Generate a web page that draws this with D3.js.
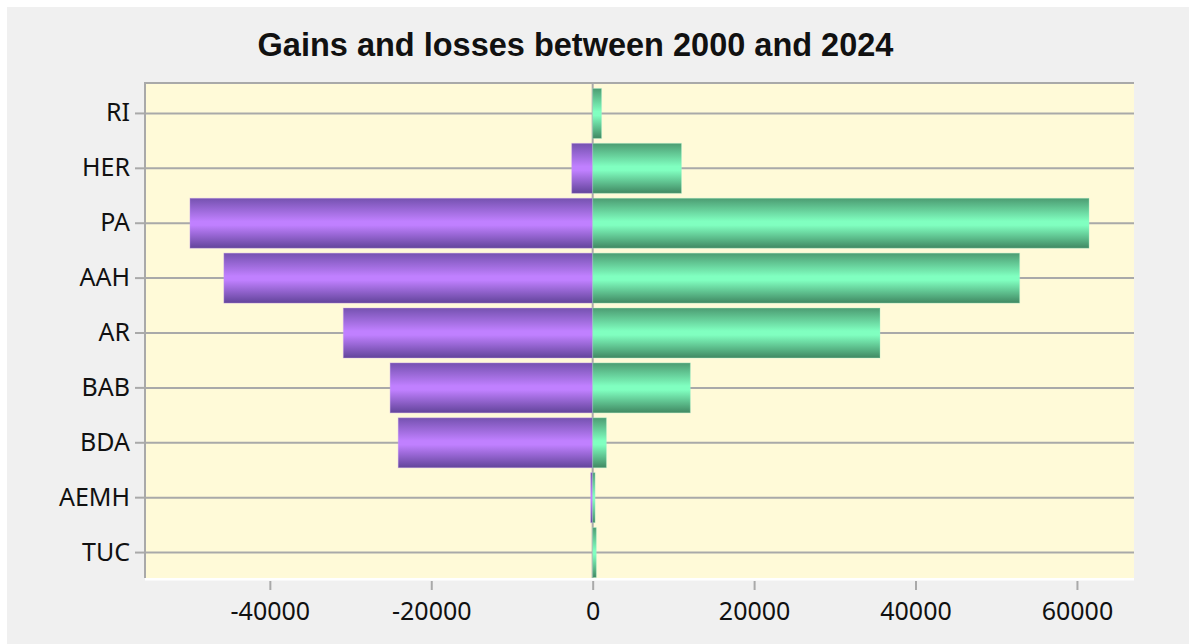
<!DOCTYPE html>
<html>
<head>
<meta charset="utf-8">
<script src="https://cdn.jsdelivr.net/npm/d3@7"></script>
<style>
  html, body { margin: 0; padding: 0; background: #ffffff; }
  svg { display: block; }
</style>
</head>
<body>
<svg id="chart" width="1189" height="644"></svg>
<script>
// Net change per group between 2000 and 2024: losses (negative) and gains (positive)
const categories = ["RI", "HER", "PA", "AAH", "AR", "BAB", "BDA", "AEMH", "TUC"];
const losses = [0, -2600, -49900, -45700, -30900, -25100, -24100, -250, 0];
const gains = [1100, 11000, 61500, 52900, 35600, 12100, 1700, 300, 450];
const xTicks = [-40000, -20000, 0, 20000, 40000, 60000];
const chartTitle = "Gains and losses between 2000 and 2024";

const W = 1189, H = 644;
const plot = { left: 145, right: 1134, top: 83, bottom: 578 };
const gridColor = "#a9a9a9";
const labelFont = "'Noto Sans', 'DejaVu Sans', sans-serif";

const svg = d3.select("#chart");

// gradients for the cylinder-like bars
const defs = svg.append("defs");
function cylinder(id, edgeTop, mid, edgeBottom) {
  const g = defs.append("linearGradient")
    .attr("id", id).attr("x1", 0).attr("y1", 0).attr("x2", 0).attr("y2", 1);
  g.append("stop").attr("offset", "0%").attr("stop-color", edgeTop);
  g.append("stop").attr("offset", "46%").attr("stop-color", mid);
  g.append("stop").attr("offset", "54%").attr("stop-color", mid);
  g.append("stop").attr("offset", "100%").attr("stop-color", edgeBottom);
}
cylinder("lossFill", "#7552b0", "#c080ff", "#62449a");
cylinder("gainFill", "#4c9c72", "#80ffc0", "#408862");

// outer background
svg.append("rect").attr("x", 7).attr("y", 7).attr("width", W - 7).attr("height", H - 7)
  .attr("fill", "#f0f0f0");

// scales: value axis padded by 5% of the data span on both sides
const lo = d3.min(losses), hi = d3.max(gains);
const span = hi - lo;
const x = d3.scaleLinear()
  .domain([lo - 0.05 * span, hi + 0.05 * span])
  .range([plot.left, plot.right]);

const y = d3.scaleBand()
  .domain(categories)
  .range([86, 580])
  .paddingInner(0.09)
  .paddingOuter(0.045);
const bw = y.bandwidth();

// plot area
svg.append("rect")
  .attr("x", plot.left).attr("y", plot.top)
  .attr("width", plot.right - plot.left).attr("height", plot.bottom - plot.top)
  .attr("fill", "#fffad8");
svg.append("rect")
  .attr("x", plot.left).attr("y", plot.bottom)
  .attr("width", plot.right - plot.left).attr("height", 2.5)
  .attr("fill", "#ffffff");

// horizontal grid lines through each category
svg.append("g").selectAll("line")
  .data(categories)
  .join("line")
  .attr("x1", plot.left).attr("x2", plot.right)
  .attr("y1", d => y(d) + bw / 2).attr("y2", d => y(d) + bw / 2)
  .attr("stroke", gridColor).attr("stroke-width", 2);

// zero line
svg.append("line")
  .attr("x1", x(0)).attr("x2", x(0))
  .attr("y1", plot.top).attr("y2", plot.bottom)
  .attr("stroke", gridColor).attr("stroke-width", 2);

// bars
const rows = categories.map((c, i) => ({ c, loss: losses[i], gain: gains[i] }));
const bars = svg.append("g");
bars.selectAll("rect.loss")
  .data(rows.filter(r => r.loss < 0))
  .join("rect")
  .attr("class", "loss")
  .attr("x", d => x(d.loss))
  .attr("width", d => x(0) - x(d.loss))
  .attr("y", d => y(d.c))
  .attr("height", bw)
  .attr("fill", "url(#lossFill)")
  .attr("stroke", "rgba(200,160,240,0.35)")
  .attr("stroke-width", 1);
bars.selectAll("rect.gain")
  .data(rows.filter(r => r.gain > 0))
  .join("rect")
  .attr("class", "gain")
  .attr("x", x(0))
  .attr("width", d => x(d.gain) - x(0))
  .attr("y", d => y(d.c))
  .attr("height", bw)
  .attr("fill", "url(#gainFill)")
  .attr("stroke", "rgba(170,240,205,0.35)")
  .attr("stroke-width", 1);

// frame lines: top and left
svg.append("line")
  .attr("x1", plot.left - 1).attr("x2", plot.right)
  .attr("y1", plot.top).attr("y2", plot.top)
  .attr("stroke", gridColor).attr("stroke-width", 2);
svg.append("line")
  .attr("x1", plot.left).attr("x2", plot.left)
  .attr("y1", plot.top).attr("y2", plot.bottom)
  .attr("stroke", gridColor).attr("stroke-width", 2);

// category axis
const yAxis = svg.append("g")
  .attr("transform", `translate(${plot.left},0)`)
  .call(d3.axisLeft(y).tickSize(10).tickPadding(5));
yAxis.select(".domain").remove();
yAxis.selectAll(".tick line").attr("stroke", gridColor).attr("stroke-width", 2);
yAxis.selectAll(".tick text")
  .attr("font-family", labelFont).attr("font-size", 25).attr("fill", "#111");

// value axis
const xAxis = svg.append("g")
  .attr("transform", `translate(0,${plot.bottom + 3})`)
  .call(d3.axisBottom(x).tickValues(xTicks).tickSize(9).tickPadding(12)
    .tickFormat(d => String(d)));
xAxis.select(".domain").remove();
xAxis.selectAll(".tick line").attr("stroke", gridColor).attr("stroke-width", 2);
xAxis.selectAll(".tick text")
  .attr("font-family", labelFont).attr("font-size", 25).attr("fill", "#111");

// title
svg.append("text")
  .attr("x", 575.5).attr("y", 56)
  .attr("text-anchor", "middle")
  .attr("font-family", "'Liberation Sans', Arial, sans-serif")
  .attr("font-weight", "bold")
  .attr("font-size", 32.5)
  .attr("fill", "#111")
  .text(chartTitle);
</script>
</body>
</html>
